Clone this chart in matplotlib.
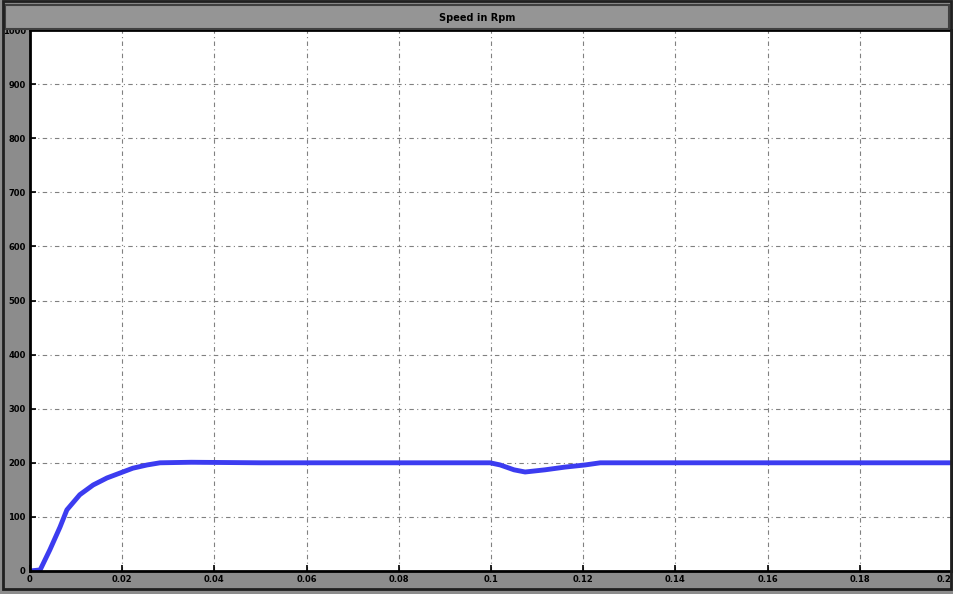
import numpy as np
import matplotlib
matplotlib.use("Agg")
import matplotlib.pyplot as plt
from matplotlib.patches import Rectangle

# === Data ===
time_s = [0.0, 0.0022, 0.0043, 0.0065, 0.008, 0.0108, 0.0137, 0.0167, 0.0195,
          0.0223, 0.0254, 0.0282, 0.035, 0.05, 0.07, 0.09, 0.0998, 0.102,
          0.105, 0.1074, 0.1117, 0.116, 0.1204, 0.1237, 0.14, 0.16, 0.18, 0.2]
speed_rpm = [0, 2, 39, 81, 113, 141, 159, 172, 181,
             190, 196, 200, 201, 200, 200, 200, 200, 196,
             187, 183, 187, 192, 196, 200, 200, 200, 200, 200]

x_ticks = [0, 0.02, 0.04, 0.06, 0.08, 0.1, 0.12, 0.14, 0.16, 0.18, 0.2]
x_labels = ["0", "0.02", "0.04", "0.06", "0.08", "0.1", "0.12", "0.14", "0.16", "0.18", "0.2"]
y_ticks = [0, 100, 200, 300, 400, 500, 600, 700, 800, 900, 1000]

fig = plt.figure(figsize=(9.54, 5.94), dpi=100, facecolor="#8c8c8c")

# title bar and frame
fig.patches.append(Rectangle((0.005, 0.952), 0.99, 0.04, transform=fig.transFigure,
                             facecolor="#959595", edgecolor="#404040", lw=1.5))
fig.patches.append(Rectangle((0.003, 0.008), 0.994, 0.99, transform=fig.transFigure,
                             facecolor="none", edgecolor="#202020", lw=2))
fig.text(0.5, 0.97, "Speed in Rpm", ha="center", va="center", fontsize=7,
         fontweight="bold", color="black")

ax = fig.add_axes([30 / 954, 23 / 594, 922 / 954, 541 / 594])
ax.set_facecolor("white")
ax.plot(time_s, speed_rpm, color="#3c3cf0", lw=3.5, solid_capstyle="butt")

ax.set_xlim(0, 0.2)
ax.set_ylim(0, 1000)
ax.set_xticks(x_ticks)
ax.set_xticklabels(x_labels)
ax.set_yticks(y_ticks)
ax.grid(True, color="#808080", ls=(0, (4, 3, 1, 3)), lw=0.8)
ax.tick_params(direction="in", length=4, labelsize=6, width=1.2, colors="black", pad=3)
for lab in ax.get_xticklabels() + ax.get_yticklabels():
    lab.set_fontweight("bold")
ax.get_xticklabels()[-1].set_horizontalalignment("right")
for s in ax.spines.values():
    s.set_linewidth(2)
    s.set_color("black")

plt.savefig("out.png", dpi=100, facecolor=fig.get_facecolor())
plt.close()
